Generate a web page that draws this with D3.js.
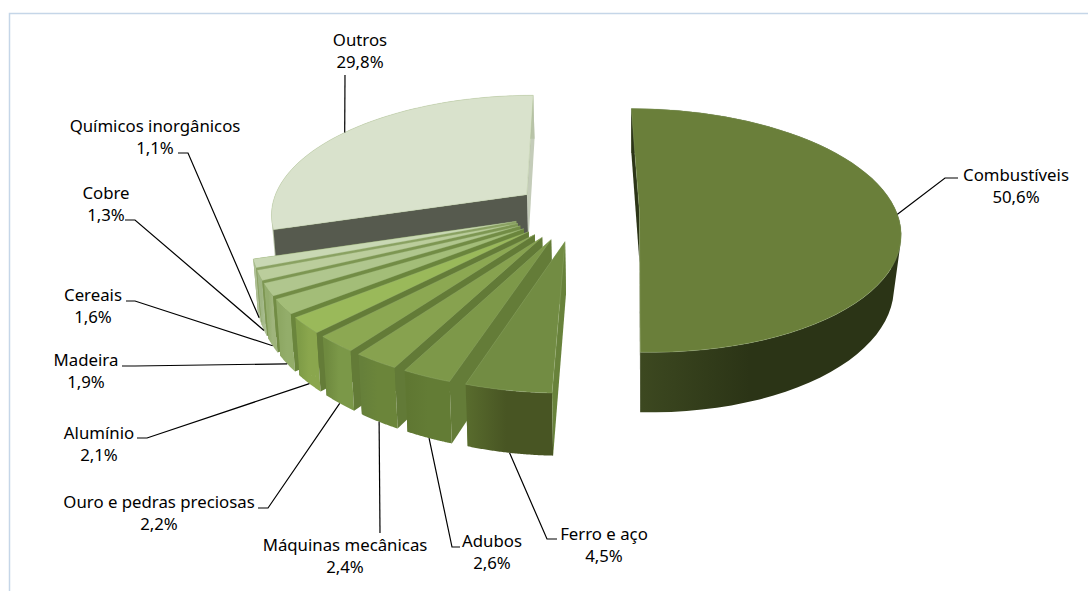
<!DOCTYPE html>
<html>
<head>
<meta charset="utf-8">
<style>
  html, body { margin: 0; padding: 0; background: #fff; }
  svg { display: block; }
  text { font-family: "Noto Sans", sans-serif; font-size: 16.8px; fill: #000; }
</style>
<script src="https://cdnjs.cloudflare.com/ajax/libs/d3/7.8.5/d3.min.js"></script>
</head>
<body>
<svg width="1088" height="591"></svg>
<script>
const categories = ['Combustíveis', 'Ferro e aço', 'Adubos', 'Máquinas mecânicas', 'Ouro e pedras preciosas',
  'Alumínio', 'Madeira', 'Cereais', 'Cobre', 'Químicos inorgânicos', 'Outros'];
const values = [50.6, 4.5, 2.6, 2.4, 2.2, 2.1, 1.9, 1.6, 1.3, 1.1, 29.8];

// colours, same order as categories
const topColours = ['#6a7f3a', '#728c43', '#7d9849', '#87a24f', '#8ca852', '#9ab95a', '#a3bd78', '#b0c68e', '#bbcd9c', '#c9d8b4', '#d9e2cc'];
const faceColours = ['#2c3517', '#68823b', '#647c38', '#627a37', '#637b37', '#647c38', '#6a853c', '#728c45', '#7d9652', '#8aa162', '#565a4e'];
const endColours = ['#2c3517', '#68823b', '#647c38', '#627a37', '#637b37', '#647c38', '#6a853c', '#728c45', '#7d9652', '#8aa162', '#c4ccb9'];
const rimLeft = ['#3e4a21', '#586b2d', '#5f7732', '#66803a', '#6f8a3f', '#7f9c47', '#8ea864', '#94ad6e', '#9fb583', '#afc096', '#b8c3a8'];
const rimRight = ['#2b3416', '#485523', '#637c35', '#6b853a', '#7b9848', '#8aa64d', '#93ad6a', '#9fb47c', '#a9bd8f', '#b6c6a0', '#b8c3a8'];

// label layout: centre x, first baseline y, then the leader's start and elbow
const labelX = [1016, 604, 492, 345, 159, 99, 86, 93, 106, 155, 360];
const labelY = [181, 540, 547, 551, 508, 439, 366, 301, 199, 132, 46];
const elbows = [[945, 178, 958, 178], [547, 539, 557, 539], [452, 547, 460, 547], [380, 533, 380, 533],
  [268, 508, 258, 508], [147, 438, 137, 438], [135, 366, 122, 366], [135, 301, 126, 301],
  [135, 220, 125, 220], [188, 153, 178, 153], [345, 75, 345, 75]];

const svg = d3.select('svg');

// chart area border, only top and left show
svg.append('path')
  .attr('d', 'M1088,13.5H9.5V591')
  .attr('fill', 'none')
  .attr('stroke', '#c5d6e8')
  .attr('stroke-width', 1.5);

// pie lies on the floor, u to the right and v towards the viewer, radius 1
const EXPLODE = 0.245;
const PERSP = 0.15;
const xScale = d3.scaleLinear().domain([0, 1]).range([576.5, 576.5 + 257]);
const yScale = d3.scaleLinear().domain([0, 1]).range([211.6, 211.6 + 119]);
const DROP = 51;

function project(u, v, z) {
  const f = 1 / (1 - PERSP * v);
  let x = xScale(u * f);
  const y = yScale(v * f) + DROP * z * f;
  // sides lean in a little going down
  const lean = x < 640 ? (640 - x) * 0.012 : (640 - x) * 0.028;
  x += lean * z;
  return [x, y];
}

const pie = d3.pie().sort(null).value(d => d);
const slices = pie(values).map((d, i) => {
  const mid = (d.startAngle + d.endAngle) / 2;
  return { i, start: d.startAngle, end: d.endAngle, mid,
    ou: EXPLODE * Math.sin(mid), ov: -EXPLODE * Math.cos(mid) };
});

function rimPoint(s, a, z) {
  return project(s.ou + Math.sin(a), s.ov - Math.cos(a), z);
}

const line = d3.line();
const defs = svg.append('defs');

function drawSlice(s) {
  const g = svg.append('g');
  const angles = d3.range(0, 61).map(k => s.start + (s.end - s.start) * k / 60);
  const apex = z => project(s.ou, s.ov, z);
  const topArc = angles.map(a => rimPoint(s, a, 0));
  const bottomArc = angles.map(a => rimPoint(s, a, 1));

  const xs = d3.extent(bottomArc, d => d[0]);
  const grad = defs.append('linearGradient').attr('id', 'rim' + s.i)
    .attr('gradientUnits', 'userSpaceOnUse')
    .attr('x1', xs[0]).attr('x2', xs[1]).attr('y1', 0).attr('y2', 0);
  grad.append('stop').attr('offset', '0%').attr('stop-color', rimLeft[s.i]);
  grad.append('stop').attr('offset', '45%').attr('stop-color', rimRight[s.i]);
  grad.append('stop').attr('offset', '100%').attr('stop-color', rimRight[s.i]);

  // far cut face, rim in strips, near cut face, then the lid
  g.append('path')
    .attr('d', line([apex(0), topArc[60], bottomArc[60], apex(1)]) + 'Z')
    .attr('fill', endColours[s.i]);
  const rimStrips = d3.range(0, 60).map(k => {
    const quad = [topArc[k], topArc[k + 1], bottomArc[k + 1], bottomArc[k]];
    // back and front strips wind opposite ways, keep them all the same or they cancel
    if (d3.polygonArea(quad) < 0) quad.reverse();
    return line(quad) + 'Z';
  }).join('');
  g.append('path')
    .attr('d', rimStrips)
    .attr('fill', 'url(#rim' + s.i + ')');
  g.append('path')
    .attr('d', line([apex(0), topArc[0], bottomArc[0], apex(1)]) + 'Z')
    .attr('fill', faceColours[s.i]);
  g.append('path')
    .attr('d', line([apex(0)].concat(topArc)) + 'Z')
    .attr('fill', topColours[s.i])
    .attr('stroke', '#a2b77f')
    .attr('stroke-width', 0.5)
    .attr('stroke-opacity', 0.6)
    .attr('stroke-linejoin', 'round');
}

// back to front: Outros, Combustíveis, then the small ones from left to right
[10, 0, 9, 8, 7, 6, 5, 4, 3, 2, 1].forEach(i => drawSlice(slices[i]));

// leader lines and labels
const pct = d3.formatLocale({ decimal: ',', thousands: '.', grouping: [3], currency: ['', ''] }).format('.1f');

slices.forEach(s => {
  // big slices are met on the lid edge, small ones under the rim
  const z = s.i === 0 || s.i === 10 ? 0 : 1;
  const end = rimPoint(s, s.mid, z);
  const e = elbows[s.i];
  svg.append('path')
    .attr('d', line([[e[2], e[3]], [e[0], e[1]], end]))
    .attr('fill', 'none')
    .attr('stroke', '#000')
    .attr('stroke-width', 1.2);

  const t = svg.append('text').attr('text-anchor', 'middle');
  t.append('tspan').attr('x', labelX[s.i]).attr('y', labelY[s.i]).text(categories[s.i]);
  t.append('tspan').attr('x', labelX[s.i]).attr('y', labelY[s.i] + 22).text(pct(values[s.i]) + '%');
});
</script>
</body>
</html>
